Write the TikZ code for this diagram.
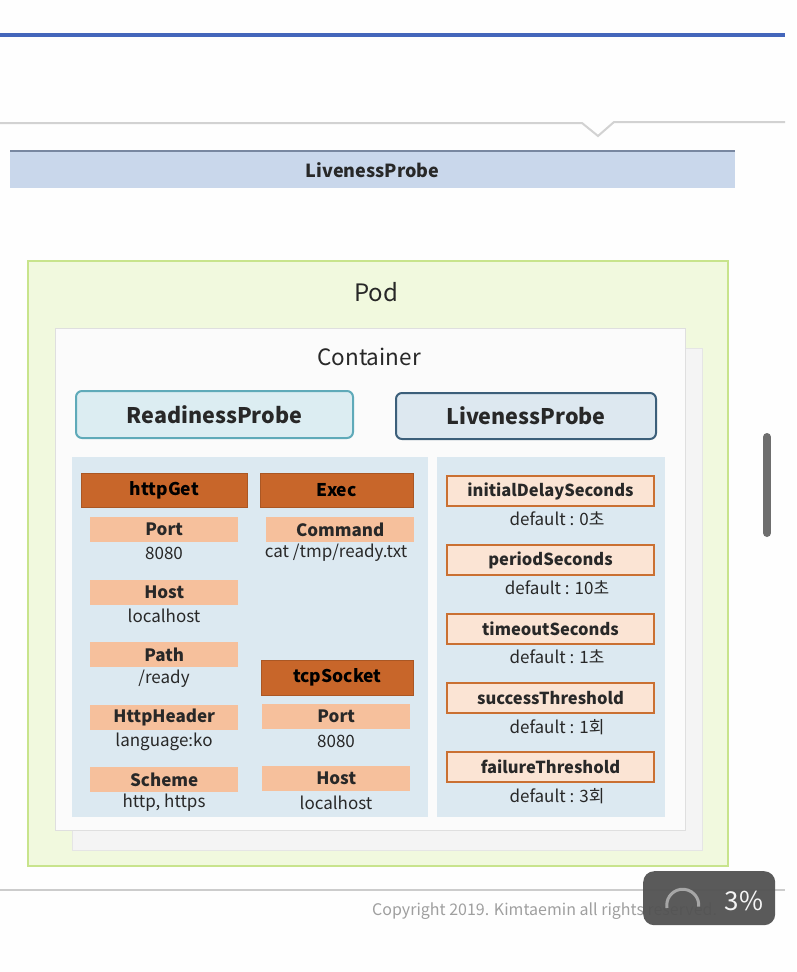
\documentclass[tikz,border=0pt]{standalone}
\usepackage{fontspec}
\setmainfont{Noto Sans CJK KR}
\definecolor{dkor}{RGB}{200,102,42}
\definecolor{peach}{RGB}{246,192,156}
\definecolor{rfill}{RGB}{251,228,212}
\definecolor{rdraw}{RGB}{202,112,50}
\definecolor{panel}{RGB}{220,233,241}
\definecolor{podfill}{RGB}{241,249,222}
\definecolor{poddraw}{RGB}{200,228,140}
\definecolor{topblue}{RGB}{68,102,187}
\definecolor{banner}{RGB}{201,215,235}
\definecolor{bannerline}{RGB}{120,135,160}
\definecolor{txt}{RGB}{40,40,40}
\definecolor{rpfill}{RGB}{220,237,242}
\definecolor{rpdraw}{RGB}{95,170,185}
\definecolor{lpfill}{RGB}{221,232,240}
\definecolor{lpdraw}{RGB}{60,95,122}
\definecolor{scroll}{RGB}{110,110,110}
\tikzset{
  fs/.style={font=\fontsize{#1}{#1}\selectfont},
  hdr/.style={fill=dkor, draw=dkor!85!black, line width=0.6pt, inner sep=0pt, anchor=north west, text=black,
              font=\bfseries\fontsize{17.5}{17.5}\selectfont},
  sub/.style={fill=peach, inner sep=0pt, anchor=north west, text=txt, minimum height=25pt,
              font=\bfseries\fontsize{17}{17}\selectfont},
  rbox/.style={fill=rfill, draw=rdraw, line width=2pt, inner sep=0pt, anchor=north west, text=txt,
              font=\bfseries\fontsize{16.5}{16.5}\selectfont, minimum width=207pt, minimum height=30pt},
  val/.style={text=txt, inner sep=0pt, font=\fontsize{17}{17}\selectfont},
  probe/.style={rounded corners=6pt, line width=2pt, inner sep=0pt, anchor=north west, text=txt,
              font=\bfseries\fontsize{21.5}{21.5}\selectfont},
}
\begin{document}
\begin{tikzpicture}[x=1pt,y=-1pt]
\useasboundingbox (0,0) rectangle (796,972);
\fill[white!99!gray] (0,0) rectangle (796,972);
% top blue line
\draw[topblue, line width=3.5pt] (0,35) -- (785,35);
% gray line with notch
\draw[gray!35, line width=2pt] (0,123) -- (582,123) -- (598,136) -- (614,122) -- (785,122);
% banner
\node[fill=banner, minimum width=725pt, minimum height=37pt, inner sep=0pt, anchor=north west,
      font=\bfseries\fontsize{18}{18}\selectfont, text=txt] (banner) at (10,151) {LivenessProbe};
\draw[bannerline, line width=1.5pt] (banner.north west) -- (banner.north east);
% Pod
\node[fill=podfill, draw=poddraw, line width=2pt, minimum width=700pt, minimum height=605pt,
      inner sep=0pt, anchor=north west] (pod) at (27,260) {};
\node[fs=24, text=txt] (podlbl) at (376,292) {Pod};
% container back + front
\fill[gray!9] (72,348) rectangle (702,850);
\draw[gray!20, line width=1pt] (72,348) rectangle (702,850);
\node[fill=white!97!gray, draw=gray!25, line width=1pt, minimum width=630pt, minimum height=502pt,
      inner sep=0pt, anchor=north west] (cont) at (55,328) {};
\node[fs=22.5, text=txt] (contlbl) at (369,357) {Container};
% probes
\node[probe, fill=rpfill, draw=rpdraw, minimum width=277pt, minimum height=47pt] (rp) at (75,390) {ReadinessProbe};
\node[probe, fill=lpfill, draw=lpdraw, minimum width=260pt, minimum height=46pt] (lp) at (395,392) {LivenessProbe};
% panels
\fill[panel] (72,457) rectangle (428,817);
\fill[panel] (437,457) rectangle (665,817);
% httpGet column
\node[hdr, minimum width=166pt, minimum height=34pt] (httpget) at (81,473) {httpGet};
\node[sub, minimum width=148pt] (hport) at (90,517) {Port};
\node[val] (hportv) at (164,553) {8080};
\node[sub, minimum width=148pt] (hhost) at (90,580) {Host};
\node[val] (hhostv) at (164,616) {localhost};
\node[sub, minimum width=148pt] (hpath) at (90,642) {Path};
\node[val] (hpathv) at (164,679) {/ready};
\node[sub, minimum width=148pt] (hhdr) at (90,705) {HttpHeader};
\node[val] (hhdrv) at (164,742) {language:ko};
\node[sub, minimum width=148pt] (hsch) at (90,767) {Scheme};
\node[val] (hschv) at (164,803) {http, https};
% Exec column
\node[hdr, minimum width=153pt, minimum height=34pt] (exec) at (260,473) {Exec};
\node[sub, minimum width=148pt] (cmd) at (266,517) {Command};
\node[val] (cmdv) at (336,553) {cat /tmp/ready.txt};
% tcpSocket
\node[hdr, minimum width=152pt, minimum height=35pt] (tcp) at (261,660) {tcpSocket};
\node[sub, minimum width=148pt] (tport) at (262,704) {Port};
\node[val] (tportv) at (336,741) {8080};
\node[sub, minimum width=148pt] (thost) at (262,766) {Host};
\node[val] (thostv) at (336,803) {localhost};
% right column
\node[rbox] (ids) at (446,475) {initialDelaySeconds};
\node[val] (idsv) at (557,519) {default : 0초};
\node[rbox] (ps) at (446,544) {periodSeconds};
\node[val] (psv) at (557,588) {default : 10초};
\node[rbox] (ts) at (446,613) {timeoutSeconds};
\node[val] (tsv) at (557,657) {default : 1초};
\node[rbox] (st) at (446,682) {successThreshold};
\node[val] (stv) at (557,727) {default : 1회};
\node[rbox] (ft) at (446,751) {failureThreshold};
\node[val] (ftv) at (557,796) {default : 3회};
% bottom line and copyright
\draw[gray!40, line width=1.5pt] (0,890) -- (785,890);
\node[text=gray!75, fs=16, anchor=west, inner sep=0pt] (copy) at (372,911) {Copyright 2019. Kimtaemin all rights reserved.};
% scrollbar
\draw[scroll, line width=8pt, line cap=round] (767,437) -- (767,533);
% overlay
\node[fill=black!68, fill opacity=0.95, rounded corners=11pt, minimum width=132pt, minimum height=54pt,
      inner sep=0pt, anchor=north west] (ovl) at (643,871) {};
\node[text=white!92!gray, fs=26, inner sep=0pt] (pct) at (744,901) {3\%};
\draw[gray!70, line width=3pt] (667,908) arc[start angle=190, end angle=-5, radius=16pt];
\end{tikzpicture}
\end{document}
